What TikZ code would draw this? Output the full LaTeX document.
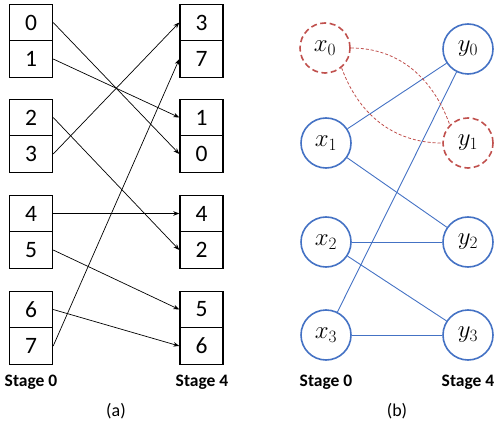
\documentclass[tikz,border=0pt]{standalone}
\usepackage{fontspec}
\setmainfont{Carlito}
\usetikzlibrary{arrows.meta}
\definecolor{cblue}{RGB}{68,114,196}
\definecolor{cred}{RGB}{192,80,77}
\begin{document}
\begin{tikzpicture}[x=1pt,y=-1pt,
  cell/.style={draw=black,line width=1.4pt,minimum width=43pt,minimum height=36.5pt,inner sep=0pt,font=\fontsize{23.5}{26}\selectfont},
  arr/.style={line width=0.7pt,-{Stealth[length=6pt,width=4.5pt]}},
  stagelbl/.style={font=\fontsize{17.5}{20}\selectfont\bfseries},
  caplbl/.style={font=\fontsize{18}{21}\selectfont},
  vtx/.style={circle,draw=cblue,line width=1.6pt,minimum size=50pt,inner sep=0pt,font=\fontsize{24}{28}\selectfont},
  dvtx/.style={circle,draw=cred,line width=1.6pt,dash pattern=on 6pt off 3.5pt,minimum size=50pt,inner sep=0pt,font=\fontsize{24}{28}\selectfont},
  edge/.style={draw=cblue,line width=0.9pt},
  dedge/.style={draw=cred,line width=0.8pt,dash pattern=on 3pt off 2pt}]
\useasboundingbox (0,0) rectangle (500,422);
% left cells
\node[cell] (L0) at (31,22.5) {0};
\node[cell] (L1) at (31,59) {1};
\node[cell] (L2) at (31,117.5) {2};
\node[cell] (L3) at (31,154) {3};
\node[cell] (L4) at (31,213.5) {4};
\node[cell] (L5) at (31,250) {5};
\node[cell] (L6) at (31,309.5) {6};
\node[cell] (L7) at (31,346) {7};
% right cells
\node[cell] (R3) at (201.5,22.5) {3};
\node[cell] (R7) at (201.5,59) {7};
\node[cell] (R1) at (201.5,117.5) {1};
\node[cell] (R0) at (201.5,154) {0};
\node[cell] (R4) at (201.5,213.5) {4};
\node[cell] (R2) at (201.5,250) {2};
\node[cell] (R5) at (201.5,309.5) {5};
\node[cell] (R6) at (201.5,346) {6};
\foreach \i in {0,...,7} { \draw[arr] (L\i.east) -- (R\i.west); }
\node[stagelbl] (s0a) at (31,382) {Stage 0};
\node[stagelbl] (s4a) at (202,382) {Stage 4};
\node[caplbl] (capa) at (116,411) {(a)};
% right panel
\node[dvtx] (x0) at (325,48) {$x_0$};
\node[vtx] (y0) at (468,49) {$y_0$};
\node[vtx] (x1) at (326,143) {$x_1$};
\node[dvtx] (y1) at (468,143) {$y_1$};
\node[vtx] (x2) at (326,242) {$x_2$};
\node[vtx] (y2) at (468,242) {$y_2$};
\node[vtx] (x3) at (326,335) {$x_3$};
\node[vtx] (y3) at (468,335) {$y_3$};
\draw[edge] (x1) -- (y0);
\draw[edge] (x1) -- (y2);
\draw[edge] (x2) -- (y2);
\draw[edge] (x2) -- (y3);
\draw[edge] (x3) -- (y0);
\draw[edge] (x3) -- (y3);
\draw[dedge] (x0.0) to[out=0,in=110] (y1.135);
\draw[dedge] (x0.-50) to[out=-70,in=180] (y1.180);
\node[stagelbl] (s0b) at (326,382) {Stage 0};
\node[stagelbl] (s4b) at (468,382) {Stage 4};
\node[caplbl] (capb) at (397,411) {(b)};
\end{tikzpicture}
\end{document}
